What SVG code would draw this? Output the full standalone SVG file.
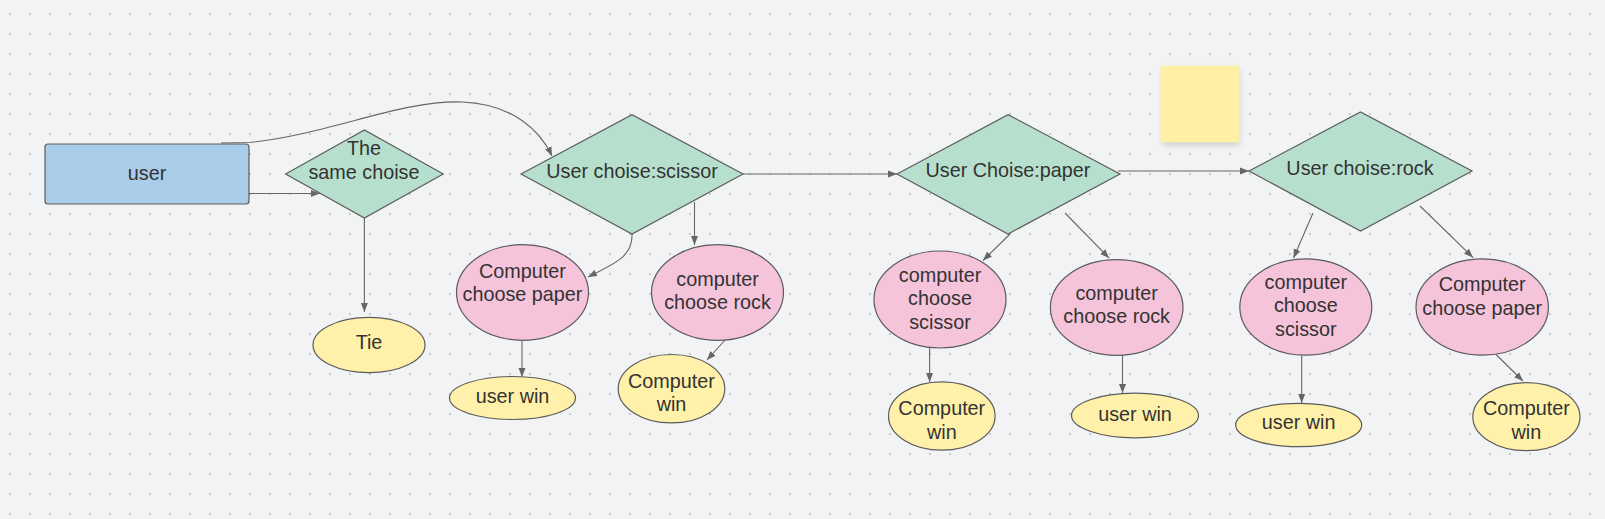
<svg xmlns="http://www.w3.org/2000/svg" width="1605" height="519" viewBox="0 0 1605 519">
<defs>
<pattern id="dots" width="20" height="20" patternUnits="userSpaceOnUse">
<circle cx="10" cy="14" r="0.9" fill="#b3b6ba"/>
</pattern>
<marker id="ah" markerUnits="userSpaceOnUse" markerWidth="9" markerHeight="8" refX="9" refY="4" orient="auto">
<path d="M0,0.5 L9,4 L0,7.5 z" fill="#666"/>
</marker>
<filter id="sh" x="-20%" y="-20%" width="140%" height="160%">
<feGaussianBlur stdDeviation="3"/>
</filter>
<style>
.t{font-family:"Liberation Sans",Arial,sans-serif;font-size:19.8px;fill:#333;text-anchor:middle}
.c{fill:none;stroke:#666;stroke-width:1.1;marker-end:url(#ah)}
.rect{fill:#a9cce8;stroke:#5c5c5c;stroke-width:1.2}
.dia{fill:#b7dfcd;stroke:#5c5c5c;stroke-width:1.2}
.pink{fill:#f5c3da;stroke:#5c5c5c;stroke-width:1.2}
.yel{fill:#fff1a9;stroke:#5c5c5c;stroke-width:1.2}
</style>
</defs>
<rect width="1605" height="519" fill="#f2f3f5"/>
<rect width="1605" height="519" fill="url(#dots)"/>

<g id="connectors">
<path class="c" d="M249,193.5 L320,193.5"/>
<path class="c" d="M364.4,218 L364.4,312"/>
<path class="c" d="M221,143 L250,142.5 C330,134 400,100 462,102 C512,104 540,130 552,156"/>
<path class="c" d="M743,174 L897,174"/>
<path class="c" d="M1118,171 L1249,171"/>
<path class="c" d="M632,234 C633,256 616,263 588,277"/>
<path class="c" d="M694.5,202 L694.5,245"/>
<path class="c" d="M522,340 L522,377"/>
<path class="c" d="M726,339 L707,360"/>
<path class="c" d="M1010,234 L983,260.5"/>
<path class="c" d="M929.6,348 L929.6,382"/>
<path class="c" d="M1065,213 L1109,258"/>
<path class="c" d="M1122.5,355 L1122.5,393"/>
<path class="c" d="M1313,213 L1293.5,258"/>
<path class="c" d="M1301.7,352 L1301.7,403"/>
<path class="c" d="M1420,206 L1473,257.5"/>
<path class="c" d="M1496,354.5 L1523,381"/>
</g>

<g id="sticky">
<rect x="1163" y="70" width="76" height="75" fill="#9a9a9a" opacity="0.45" filter="url(#sh)"/>
<rect x="1160.5" y="65.5" width="79" height="77" fill="#fff0a6"/>
</g>

<g id="user">
<rect class="rect" x="45" y="144" width="204" height="60" rx="3"/>
<text class="t" x="147" y="179.5">user</text>
</g>

<g id="same">
<polygon class="dia" points="285.6,174 364.4,130 443.2,174 364.4,218"/>
<text class="t" x="364" y="154.5">The</text>
<text class="t" x="364" y="179">same choise</text>
</g>

<g id="tie">
<ellipse class="yel" cx="369" cy="345" rx="56" ry="27.6"/>
<text class="t" x="369" y="349">Tie</text>
</g>

<g id="scissor">
<polygon class="dia" points="521,174 632,114.6 743,174 632,234"/>
<text class="t" x="632" y="178">User choise:scissor</text>
</g>

<g id="paper">
<polygon class="dia" points="897,174 1008,114.6 1120,174 1008,234"/>
<text class="t" x="1008" y="177">User Choise:paper</text>
</g>

<g id="rock">
<polygon class="dia" points="1249,171 1360.5,112 1472,171 1360.5,231"/>
<text class="t" x="1360" y="175">User choise:rock</text>
</g>

<g id="s_paper">
<ellipse class="pink" cx="522.5" cy="292.5" rx="66" ry="47.8"/>
<text class="t" x="522.5" y="277.5">Computer</text>
<text class="t" x="522.5" y="301">choose paper</text>
</g>

<g id="s_rock">
<ellipse class="pink" cx="717.5" cy="292.5" rx="66" ry="47.8"/>
<text class="t" x="717.5" y="286">computer</text>
<text class="t" x="717.5" y="308.5">choose rock</text>
</g>

<g id="s_userwin">
<ellipse class="yel" cx="512.5" cy="398" rx="63" ry="21.5"/>
<text class="t" x="512.5" y="403">user win</text>
</g>

<g id="s_compwin">
<ellipse class="yel" cx="671.5" cy="388.7" rx="53.3" ry="34.2"/>
<text class="t" x="671.5" y="388">Computer</text>
<text class="t" x="671.5" y="411">win</text>
</g>

<g id="p_scissor">
<ellipse class="pink" cx="940" cy="299.5" rx="66" ry="48.5"/>
<text class="t" x="940" y="282">computer</text>
<text class="t" x="940" y="305">choose</text>
<text class="t" x="940" y="329">scissor</text>
</g>

<g id="p_compwin">
<ellipse class="yel" cx="941.8" cy="416" rx="53.3" ry="34.2"/>
<text class="t" x="941.8" y="414.5">Computer</text>
<text class="t" x="941.8" y="439">win</text>
</g>

<g id="p_rock">
<ellipse class="pink" cx="1116.7" cy="307.5" rx="66.3" ry="47.8"/>
<text class="t" x="1116.7" y="299.5">computer</text>
<text class="t" x="1116.7" y="323">choose rock</text>
</g>

<g id="p_userwin">
<ellipse class="yel" cx="1135" cy="415.5" rx="63.5" ry="22.3"/>
<text class="t" x="1135" y="421">user win</text>
</g>

<g id="r_scissor">
<ellipse class="pink" cx="1305.8" cy="307" rx="66" ry="48.2"/>
<text class="t" x="1305.8" y="288.5">computer</text>
<text class="t" x="1305.8" y="312">choose</text>
<text class="t" x="1305.8" y="336">scissor</text>
</g>

<g id="r_userwin">
<ellipse class="yel" cx="1298.7" cy="425" rx="63" ry="21.7"/>
<text class="t" x="1298.7" y="428.5">user win</text>
</g>

<g id="r_paper">
<ellipse class="pink" cx="1482.2" cy="307" rx="66.2" ry="48.2"/>
<text class="t" x="1482.2" y="291">Computer</text>
<text class="t" x="1482.2" y="315">choose paper</text>
</g>

<g id="r_compwin">
<ellipse class="yel" cx="1526.4" cy="416.7" rx="53.6" ry="34"/>
<text class="t" x="1526.4" y="415">Computer</text>
<text class="t" x="1526.4" y="439">win</text>
</g>
</svg>
